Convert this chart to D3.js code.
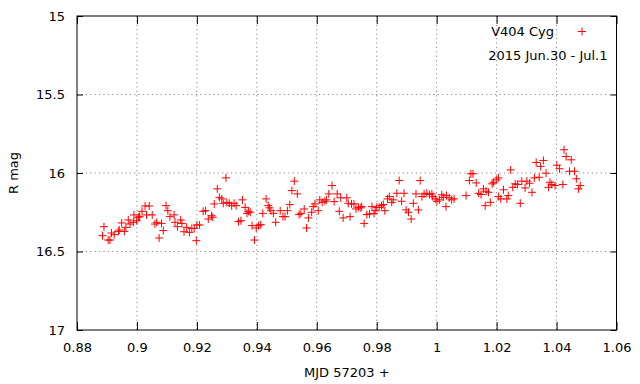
<!DOCTYPE html>
<html>
<head>
<meta charset="utf-8">
<script src="https://cdn.jsdelivr.net/npm/d3@7"></script>
<style>
	body { margin: 0; background: #fff; }
	text { font-family: "DejaVu Sans", sans-serif; font-size: 13px; fill: #000; }
	.grid line { stroke: #888; stroke-width: 1; stroke-dasharray: 1.2,3.2; }
</style>
</head>
<body>
<svg id="chart"></svg>
<script>
// MJD - 57203 (days)
const mjd = [
	0.8885,0.8890,0.8904,0.8910,0.8915,0.8924,0.8938,0.8941,0.8949,0.8958,
	0.8963,0.8971,0.8977,0.8988,0.8990,0.8999,0.9005,0.9009,0.9017,0.9027,
	0.9041,0.9032,0.9051,0.9060,0.9066,0.9082,0.9088,0.9074,0.9097,0.9103,
	0.9110,0.9124,0.9127,0.9135,0.9146,0.9150,0.9157,0.9166,0.9175,0.9183,
	0.9191,0.9198,0.9200,0.9209,0.9221,0.9229,0.9238,0.9249,0.9253,0.9258,
	0.9268,0.9275,0.9283,0.9288,0.9297,0.9300,0.9308,0.9316,0.9324,0.9331,
	0.9339,0.9347,0.9352,0.9361,0.9367,0.9372,0.9378,0.9384,0.9392,0.9398,
	0.9406,0.9413,0.9420,0.9431,0.9438,0.9442,0.9447,0.9455,0.9463,0.9478,
	0.9487,0.9494,0.9502,0.9510,0.9517,0.9525,0.9535,0.9541,0.9547,0.9558,
	0.9566,0.9572,0.9583,0.9588,0.9594,0.9605,0.9610,0.9618,0.9627,0.9632,
	0.9640,0.9651,0.9658,0.9668,0.9675,0.9680,0.9688,0.9700,0.9705,0.9711,
	0.9716,0.9724,0.9731,0.9739,0.9747,0.9750,0.9758,0.9767,0.9776,0.9784,
	0.9791,0.9795,0.9800,0.9808,0.9816,0.9822,0.9827,0.9836,0.9842,0.9850,
	0.9855,0.9867,0.9875,0.9883,0.9891,0.9898,0.9906,0.9915,0.9922,0.9931,
	0.9939,0.9945,0.9951,0.9958,0.9967,0.9976,0.9984,0.9987,0.9995,1.0001,
	1.0009,1.0017,1.0022,1.0031,1.0033,1.0042,1.0050,1.0058,1.0098,1.0109,
	1.0114,1.0121,1.0132,1.0140,1.0148,1.0156,1.0162,1.0165,1.0173,1.0179,
	1.0185,1.0190,1.0199,1.0206,1.0206,1.0214,1.0223,1.0234,1.0239,1.0247,
	1.0254,1.0262,1.0270,1.0279,1.0284,1.0295,1.0301,1.0310,1.0318,1.0326,
	1.0332,1.0342,1.0347,1.0356,1.0365,1.0373,1.0378,1.0384,1.0395,1.0401,
	1.0410,1.0421,1.0425,1.0432,1.0443,1.0449,1.0460,1.0466,1.0473,1.0479
];
// R magnitude
const rmag = [
	16.399,16.342,16.427,16.427,16.382,16.393,16.372,16.363,16.318,16.372,
	16.346,16.299,16.325,16.314,16.267,16.304,16.282,16.276,16.244,16.210,
	16.210,16.267,16.267,16.325,16.314,16.321,16.367,16.414,16.208,16.240,
	16.278,16.267,16.314,16.342,16.299,16.321,16.374,16.346,16.378,16.353,
	16.353,16.431,16.331,16.331,16.244,16.240,16.293,16.272,16.282,16.197,
	16.101,16.155,16.165,16.193,16.031,16.187,16.193,16.208,16.193,16.208,
	16.310,16.304,16.171,16.219,16.257,16.244,16.250,16.335,16.427,16.350,
	16.335,16.329,16.257,16.165,16.208,16.222,16.240,16.257,16.314,16.240,
	16.278,16.278,16.240,16.201,16.112,16.052,16.133,16.265,16.257,16.229,
	16.350,16.286,16.250,16.214,16.197,16.240,16.171,16.187,16.180,16.171,
	16.133,16.080,16.182,16.133,16.244,16.158,16.286,16.158,16.193,16.278,
	16.197,16.197,16.229,16.219,16.222,16.214,16.321,16.265,16.261,16.214,
	16.257,16.240,16.219,16.219,16.208,16.201,16.240,16.165,16.150,16.187,
	16.171,16.129,16.048,16.180,16.129,16.235,16.250,16.293,16.193,16.133,
	16.235,16.048,16.150,16.133,16.129,16.137,16.133,16.150,16.165,16.180,
	16.171,16.139,16.155,16.214,16.144,16.158,16.171,16.165,16.144,16.048,
	16.005,16.005,16.063,16.129,16.137,16.101,16.208,16.116,16.123,16.187,
	16.069,16.059,16.043,16.031,16.150,16.165,16.107,16.165,16.144,15.980,
	16.091,16.069,16.073,16.193,16.052,16.095,16.052,16.065,16.123,16.031,
	15.933,16.027,15.958,15.920,16.001,16.091,16.059,16.073,16.080,15.950,
	15.973,16.073,15.852,15.895,15.989,15.916,15.989,16.037,16.101,16.080
];
const xTicks = [0.88, 0.9, 0.92, 0.94, 0.96, 0.98, 1, 1.02, 1.04, 1.06];
const yTicks = [15, 15.5, 16, 16.5, 17];
const xLabel = "MJD 57203 +";
const yLabel = "R mag";
const keyTitle = "V404 Cyg";
const keyDate = "2015 Jun.30 - Jul.1";

const svgWidth = 640;
const svgHeight = 384;
const margin = {top: 16, right: 23.5, bottom: 54, left: 77};
const width = svgWidth - margin.left - margin.right;
const height = svgHeight - margin.top - margin.bottom;

const svg = d3.select("#chart")
	.attr("width", svgWidth)
	.attr("height", svgHeight);

const g = svg.append("g")
	.attr("transform", "translate(" + margin.left + "," + margin.top + ")");

const x = d3.scaleLinear().domain([0.88, 1.06]).range([0, width]);
const y = d3.scaleLinear().domain([15, 17]).range([0, height]);

// dotted grid (inner ticks only)
g.append("g").attr("class", "grid")
	.selectAll("line")
	.data(xTicks.slice(1, -1))
	.enter().append("line")
	.attr("x1", d => x(d)).attr("x2", d => x(d))
	.attr("y1", 0).attr("y2", height);
g.append("g").attr("class", "grid")
	.selectAll("line")
	.data(yTicks.slice(1, -1))
	.enter().append("line")
	.attr("y1", d => y(d)).attr("y2", d => y(d))
	.attr("x1", 0).attr("x2", width);

// axes with inward ticks, mirrored
const fmtX = d => d3.format("")(+d.toFixed(2));
const fmtY = d => d3.format("")(+d.toFixed(1));
const styleAxis = sel => {
	sel.select(".domain").remove();
	sel.selectAll("line").attr("stroke", "#000");
	sel.selectAll("text").style("font-size", "13px").attr("fill", "#000");
};

g.append("g")
	.attr("transform", "translate(0," + height + ")")
	.call(d3.axisBottom(x).tickValues(xTicks).tickFormat(fmtX).tickSizeInner(-8).tickPadding(13))
	.call(styleAxis);
g.append("g")
	.call(d3.axisTop(x).tickValues(xTicks).tickFormat("").tickSizeInner(-8))
	.call(styleAxis);
g.append("g")
	.call(d3.axisLeft(y).tickValues(yTicks).tickFormat(fmtY).tickSizeInner(-6).tickPadding(12))
	.call(styleAxis);
g.append("g")
	.attr("transform", "translate(" + width + ",0)")
	.call(d3.axisRight(y).tickValues(yTicks).tickFormat("").tickSizeInner(-6))
	.call(styleAxis);

// border
g.append("rect")
	.attr("width", width).attr("height", height)
	.attr("fill", "none").attr("stroke", "#000").attr("stroke-width", 1);

// points
const plus = "M-4,0H4M0,-4V4";
g.append("g")
	.selectAll("path")
	.data(mjd)
	.enter().append("path")
	.attr("d", plus)
	.attr("transform", (d, i) => "translate(" + x(d) + "," + y(rmag[i]) + ")")
	.attr("fill", "none")
	.attr("stroke", "#ff0000")
	.attr("stroke-width", 1);

// axis titles
svg.append("text")
	.attr("x", margin.left + width / 2).attr("y", 377)
	.attr("text-anchor", "middle")
	.text(xLabel);
svg.append("text")
	.attr("transform", "translate(18," + (margin.top + height / 2) + ") rotate(-90)")
	.attr("text-anchor", "middle")
	.text(yLabel);

// key
svg.append("text")
	.attr("x", 554).attr("y", 36)
	.attr("text-anchor", "end")
	.text(keyTitle);
svg.append("path")
	.attr("d", plus)
	.attr("transform", "translate(582,31.5)")
	.attr("fill", "none").attr("stroke", "#ff0000").attr("stroke-width", 1);
svg.append("text")
	.attr("x", 607.5).attr("y", 60)
	.attr("text-anchor", "end")
	.text(keyDate);
</script>
</body>
</html>
